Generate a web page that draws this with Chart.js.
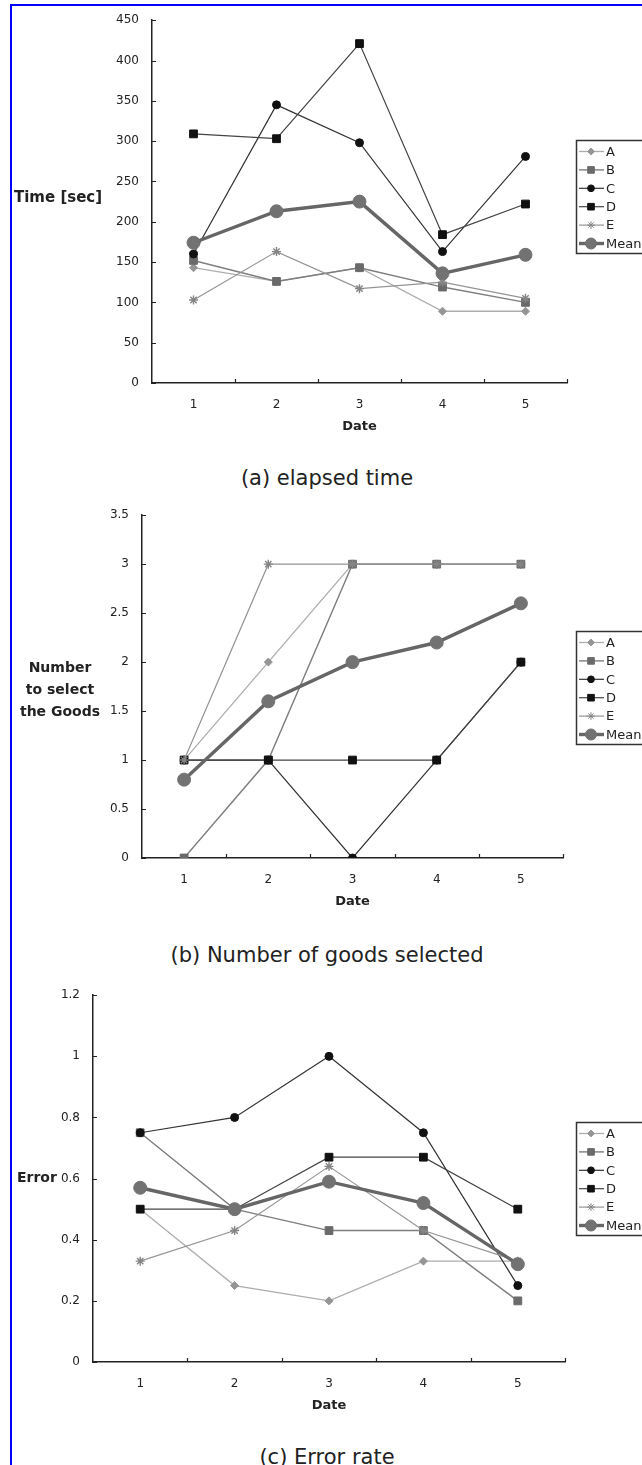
<!DOCTYPE html>
<html>
<head>
<meta charset="utf-8">
<script src="https://cdn.jsdelivr.net/npm/chart.js"></script>
<style>
body { margin: 0; background: #fff; width: 642px; height: 1465px; position: relative; overflow: hidden; font-family: "DejaVu Sans", sans-serif; color: #222; }
#frame { position: absolute; left: 10px; top: 4px; width: 640px; height: 1470px; border-left: 2px solid #0000ff; border-top: 2px solid #0000ff; }
canvas { position: absolute; left: 0; }
.cap { position: absolute; left: 0; width: 654px; text-align: center; font-size: 21px; line-height: 26px; color: #222; }
.ylab { position: absolute; font-weight: bold; font-size: 14px; line-height: 22px; text-align: center; color: #222; }
</style>
</head>
<body>
<div id="frame"></div>

<canvas id="timeChart" width="642" height="443" style="top:0px"></canvas>
<div class="ylab" style="left:14px; top:186px; font-size:15px;">Time [sec]</div>
<div class="cap" style="top:465px">(a) elapsed time</div>

<canvas id="goodsChart" width="642" height="423" style="top:495px"></canvas>
<div class="ylab" style="left:0px; width:120px; top:656px;">Number<br>to select<br>the Goods</div>
<div class="cap" style="top:942px">(b) Number of goods selected</div>

<canvas id="errorChart" width="642" height="447" style="top:975px"></canvas>
<div class="ylab" style="left:17px; top:1166px;">Error</div>
<div class="cap" style="top:1444px">(c) Error rate</div>

<script>
// Data
const dates = ['1', '2', '3', '4', '5'];
const seriesNames = ['A', 'B', 'C', 'D', 'E', 'Mean'];

const timeA = [143, 126, 143, 89, 89];
const timeB = [152, 126, 143, 119, 100];
const timeC = [160, 345, 298, 163, 281];
const timeD = [309, 303, 421, 184, 222];
const timeE = [103, 163, 117, 125, 105];
const timeMean = [174, 213, 225, 136, 159];

const goodsA = [1, 2, 3, 3, 3];
const goodsB = [0, 1, 3, 3, 3];
const goodsC = [1, 1, 0, 1, 2];
const goodsD = [1, 1, 1, 1, 2];
const goodsE = [1, 3, 3, 3, 3];
const goodsMean = [0.8, 1.6, 2, 2.2, 2.6];

const errorA = [0.5, 0.25, 0.2, 0.33, 0.33];
const errorB = [0.75, 0.5, 0.43, 0.43, 0.2];
const errorC = [0.75, 0.8, 1, 0.75, 0.25];
const errorD = [0.5, 0.5, 0.67, 0.67, 0.5];
const errorE = [0.33, 0.43, 0.64, 0.43, 0.33];
const errorMean = [0.57, 0.5, 0.59, 0.52, 0.32];

// Series look (A, B, C, D, E, Mean)
const seriesStyle = [
    { line: '#adadad', point: '#959595', shape: 'rectRot', radius: 4, width: 1.3 },
    { line: '#7e7e7e', point: '#6a6a6a', shape: 'rect', radius: 5.5, width: 1.4 },
    { line: '#333333', point: '#111111', shape: 'circle', radius: 4, width: 1.2 },
    { line: '#444444', point: '#111111', shape: 'rect', radius: 5.5, width: 1.2 },
    { line: '#949494', point: '#858585', shape: 'star', radius: 4.5, width: 1.2 },
    { line: '#666666', point: '#727272', shape: 'circle', radius: 6.5, width: 3.4 }
];

const fontFamily = '"DejaVu Sans", sans-serif';

// Tick marks drawn inside the plot, Excel style
const insideTicks = {
    id: 'insideTicks',
    afterDraw(chart) {
        const { ctx, chartArea: a, scales: { x, y } } = chart;
        ctx.save();
        ctx.strokeStyle = '#222';
        ctx.lineWidth = 1.2;
        ctx.beginPath();
        y.ticks.forEach((t, i) => {
            const py = Math.round(y.getPixelForTick(i)) + 0.5;
            ctx.moveTo(a.left, py);
            ctx.lineTo(a.left + 4, py);
        });
        for (let i = 1; i <= x.ticks.length; i++) {
            const px = Math.round(x.getPixelForValue(i - 0.5)) + 0.5;
            ctx.moveTo(px, a.bottom);
            ctx.lineTo(px, a.bottom - 4);
        }
        ctx.stroke();
        ctx.restore();
    }
};

// Boxed legend on the right edge
const boxLegend = {
    id: 'boxLegend',
    afterDraw(chart, args, opts) {
        const ctx = chart.ctx;
        const top = opts.top;
        ctx.save();
        ctx.fillStyle = '#fff';
        ctx.fillRect(576, top, 80, 113);
        ctx.strokeStyle = '#333';
        ctx.lineWidth = 1.5;
        ctx.strokeRect(576.5, top + 0.5, 80, 113);
        chart.data.datasets.forEach((ds, i) => {
            const y = top + 11.5 + i * 18.4;
            ctx.strokeStyle = ds.borderColor;
            ctx.lineWidth = ds.borderWidth;
            ctx.beginPath();
            ctx.moveTo(579, y);
            ctx.lineTo(604, y);
            ctx.stroke();
            ctx.fillStyle = ds.pointBackgroundColor;
            ctx.strokeStyle = ds.pointBorderColor;
            ctx.lineWidth = 1;
            Chart.helpers.drawPoint(ctx, {
                pointStyle: ds.pointStyle,
                radius: ds.pointRadius * 0.85,
                rotation: 0,
                borderWidth: 1
            }, 591, y);
            ctx.fillStyle = '#222';
            ctx.font = '13px ' + fontFamily;
            ctx.textBaseline = 'middle';
            ctx.fillText(ds.label, 606, y + 1);
        });
        ctx.restore();
    }
};

function makeDatasets(values) {
    return values.map((data, i) => {
        const s = seriesStyle[i];
        return {
            label: seriesNames[i],
            data: data,
            borderColor: s.line,
            borderWidth: s.width,
            pointStyle: s.shape,
            pointRadius: s.radius,
            pointHoverRadius: s.radius,
            pointBackgroundColor: s.point,
            pointBorderColor: s.point,
            pointBorderWidth: s.shape === 'star' ? 1.4 : 1,
            fill: false,
            tension: 0,
            order: values.length - i
        };
    });
}

function makeChart(id, values, yMax, yStep, area, legendTop) {
    const ctx = document.getElementById(id).getContext('2d');
    return new Chart(ctx, {
        type: 'line',
        data: { labels: dates, datasets: makeDatasets(values) },
        plugins: [insideTicks, boxLegend],
        options: {
            responsive: false,
            animation: false,
            layout: { padding: { top: area.top, right: 642 - area.right, bottom: 0, left: 0 } },
            plugins: {
                legend: { display: false },
                tooltip: { enabled: false },
                boxLegend: { top: legendTop }
            },
            scales: {
                x: {
                    offset: true,
                    grid: { display: false, drawTicks: false },
                    border: { display: true, color: '#222', width: 1.5 },
                    ticks: { padding: 15, color: '#222', font: { family: fontFamily, size: 12 }, maxRotation: 0, autoSkip: false },
                    title: { display: true, text: 'Date', color: '#222', font: { family: fontFamily, size: 13, weight: 'bold' }, padding: { top: 0, bottom: 9 } },
                    afterFit: s => { s.height = 60; }
                },
                y: {
                    min: 0,
                    max: yMax,
                    grid: { display: false, drawTicks: false },
                    border: { display: true, color: '#222', width: 1.5 },
                    ticks: {
                        stepSize: yStep,
                        padding: 13,
                        color: '#222',
                        font: { family: fontFamily, size: 12 },
                        callback: v => String(Number(v.toFixed(2)))
                    },
                    afterFit: s => { s.width = area.left; }
                }
            }
        }
    });
}

// (a) Elapsed time
const timeChart = makeChart('timeChart',
    [timeA, timeB, timeC, timeD, timeE, timeMean],
    450, 50, { left: 152, right: 567, top: 11 }, 140);

// (b) Number of goods selected
const goodsChart = makeChart('goodsChart',
    [goodsA, goodsB, goodsC, goodsD, goodsE, goodsMean],
    3.5, 0.5, { left: 142, right: 563, top: 20 }, 631 - 495);

// (c) Error rate
const errorChart = makeChart('errorChart',
    [errorA, errorB, errorC, errorD, errorE, errorMean],
    1.2, 0.2, { left: 93, right: 565, top: 18 }, 1122 - 975);
</script>
</body>
</html>
